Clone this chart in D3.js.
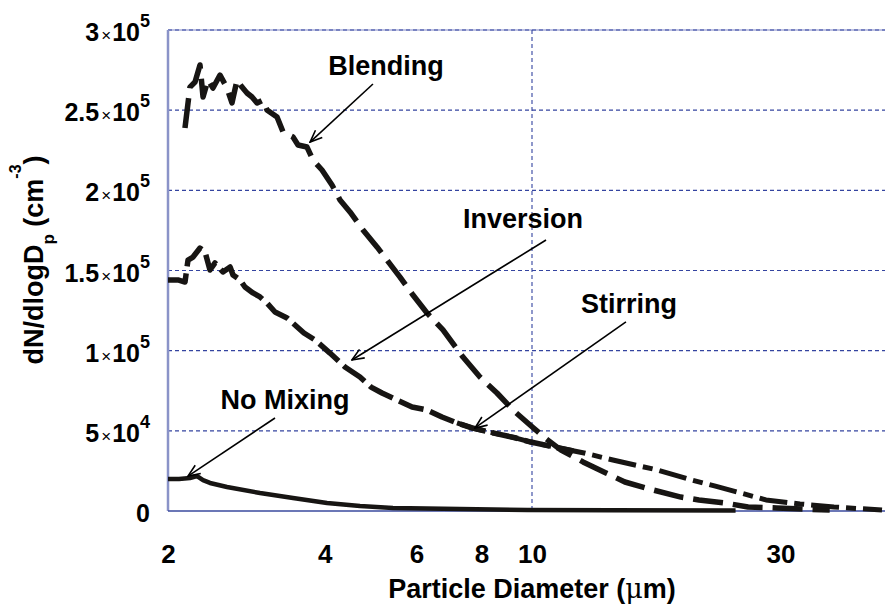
<!DOCTYPE html>
<html>
<head>
<meta charset="utf-8">
<script src="https://cdn.jsdelivr.net/npm/d3@7"></script>
<style>
body { margin: 0; background: #fff; }
text { font-family: "Liberation Sans", Arial, Helvetica, sans-serif; font-weight: bold; fill: #000; }
</style>
</head>
<body>
<script>
var width = 885, height = 605;

// [particle diameter (um), dN/dlogDp in thousands cm^-3]
var noMixing = [[2.0,20.0],[2.10,20.0],[2.204,20.6],[2.274,21.8],[2.335,19.3],[2.408,17.5],
  [2.596,15.0],[3.004,11.2],[3.476,8.1],[4.040,5.0],[4.674,3.1],[5.408,1.9],[7.27,1.2],
  [9.8,0.6],[14.1,0.4],[24.6,0.3]];

var blending = [[2.156,238.9],[2.204,264.4],[2.254,267.6],[2.304,278.2],[2.335,258.2],
  [2.387,268.8],[2.440,263.8],[2.517,271.9],[2.596,263.8],[2.654,254.5],[2.714,268.8],
  [2.774,264.4],[2.836,260.7],[2.900,258.2],[2.965,254.5],[3.044,256.3],[3.098,250.1],
  [3.239,245.7],[3.326,236.4],[3.476,233.3],[3.554,228.3],[3.698,227.0],[3.797,218.9],
  [3.951,212.7],[4.130,203.3],[4.279,194.0],[4.472,186.5],[4.737,175.3],[5.039,164.7],
  [5.267,156.5],[5.579,145.9],[5.908,134.7],[6.286,123.5],[6.746,112.9],[7.370,96.0],
  [7.944,83.6],[8.565,73.6],[9.193,63.0],[9.912,53.6],[10.6,45.5],[11.37,38.0],
  [12.53,30.6],[13.87,23.7],[15.08,18.1],[17.08,13.1],[19.32,8.7],[20.92,6.9],
  [23.47,5.0],[26.0,2.5],[29.5,1.9],[33.1,1.2],[37.3,0.6]];

var inversion = [[2.0,144.1],[2.09,144.1],[2.156,142.8],[2.185,156.5],[2.234,158.4],
  [2.304,164.0],[2.356,161.5],[2.408,150.3],[2.462,154.7],[2.550,149.1],[2.632,152.2],
  [2.666,147.2],[2.750,144.1],[2.811,139.7],[2.912,136.0],[3.004,133.5],[3.098,129.7],
  [3.210,124.1],[3.386,120.4],[3.648,111.0],[3.830,106.7],[4.093,98.5],[4.374,89.8],
  [4.674,83.6],[4.908,77.3],[5.152,73.6],[5.506,69.2],[5.884,64.9],[6.286,63.0],
  [6.716,58.6],[7.178,54.9],[7.669,51.8],[8.45,48.6],[9.32,45.5],[9.95,43.0],
  [11.02,39.9],[12.0,37.5]];

var stirring = [[7.178,54.9],[7.669,51.8],[8.45,48.6],[9.32,45.5],[9.95,43.0],[11.02,39.9],
  [12.59,36.2],[14.30,31.8],[17.45,25.5],[20.28,19.3],[22.5,15.5],[24.75,11.9],
  [28.14,6.9],[32.7,4.4],[38.0,2.5],[47.0,0.6]];

var xTicks = [2, 4, 6, 8, 10, 30];
var yTicks = [0, 5e4, 1e5, 1.5e5, 2e5, 2.5e5, 3e5];
var yTickMant = ['0', '5', '1', '1.5', '2', '2.5', '3'];
var yTickExp = [null, '4', '5', '5', '5', '5', '5'];

// label position, arrow start, arrow tip (diameter, thousands)
var notes = [
  {label: 'Blending', at: [5.245, 271.9], from: [4.95, 266.3], to: [3.748, 230.1]},
  {label: 'Inversion', at: [9.61, 176.5], from: [10.64, 169.0], to: [4.51, 94.2]},
  {label: 'Stirring', at: [15.35, 123.5], from: [15.15, 117.9], to: [7.77, 51.8]},
  {label: 'No Mixing', at: [3.356, 63.6], from: [3.21, 58.0], to: [2.185, 21.8]}
];

var svg = d3.select('body').append('svg')
  .attr('width', width)
  .attr('height', height);

var x = d3.scaleLog().domain([2, 50]).range([168, 896]);
var y = d3.scaleLinear().domain([0, 3e5]).range([511, 30]);

var defs = svg.append('defs');
defs.append('marker')
  .attr('id', 'arr')
  .attr('viewBox', '0 0 14 12')
  .attr('refX', 13).attr('refY', 6)
  .attr('markerWidth', 14).attr('markerHeight', 12)
  .attr('markerUnits', 'userSpaceOnUse')
  .attr('orient', 'auto')
  .append('path')
  .attr('d', 'M1,1 L13,6 L1,11')
  .attr('fill', 'none')
  .attr('stroke', '#000')
  .attr('stroke-width', 1.6);

// grid
svg.append('line')
  .attr('x1', x(2)).attr('x2', width)
  .attr('y1', y(3e5)).attr('y2', y(3e5))
  .attr('stroke', '#a8aed8').attr('stroke-width', 1.5);

svg.selectAll('.hgrid')
  .data(yTicks.slice(1))
  .enter().append('line')
  .attr('class', 'hgrid')
  .attr('x1', x(2)).attr('x2', width)
  .attr('y1', function(d) { return y(d); })
  .attr('y2', function(d) { return y(d); })
  .attr('stroke', '#3444a0')
  .attr('stroke-width', 1.1)
  .attr('stroke-dasharray', '4,3');

svg.append('line')
  .attr('x1', x(10)).attr('x2', x(10))
  .attr('y1', y(3e5)).attr('y2', y(0))
  .attr('stroke', '#3444a0')
  .attr('stroke-width', 1.1)
  .attr('stroke-dasharray', '4,3');

// axes lines
svg.append('line')
  .attr('x1', x(2)).attr('x2', x(2))
  .attr('y1', y(3e5)).attr('y2', y(0))
  .attr('stroke', '#8a93c8').attr('stroke-width', 2.5);

svg.append('line')
  .attr('x1', x(2)).attr('x2', width)
  .attr('y1', y(0)).attr('y2', y(0))
  .attr('stroke', '#3a4a9e').attr('stroke-width', 1.5);

// curves
var line = d3.line()
  .x(function(d) { return x(d[0]); })
  .y(function(d) { return y(d[1] * 1e3); });

var series = [
  {data: noMixing, w: 4.5, dash: null},
  {data: blending, w: 5.5, dash: '30,10'},
  {data: inversion, w: 5.5, dash: '26,7'},
  {data: stirring, w: 5, dash: '28,7,10,7'}
];

svg.selectAll('.curve')
  .data(series)
  .enter().append('path')
  .attr('class', 'curve')
  .attr('d', function(d) { return line(d.data); })
  .attr('fill', 'none')
  .attr('stroke', '#171513')
  .attr('stroke-width', function(d) { return d.w; })
  .attr('stroke-linejoin', 'round')
  .attr('stroke-dasharray', function(d) { return d.dash; });

// x tick labels
var xAxis = d3.axisBottom(x)
  .tickValues(xTicks)
  .tickFormat(d3.format('d'))
  .tickSize(0)
  .tickPadding(34);

svg.append('g')
  .attr('transform', 'translate(0,' + y(0) + ')')
  .call(xAxis)
  .attr('font-size', 26)
  .call(function(g) { g.select('.domain').remove(); });

// y tick labels with powers of ten
var yLab = svg.selectAll('.ylab')
  .data(yTicks)
  .enter().append('text')
  .attr('class', 'ylab')
  .attr('x', 150)
  .attr('y', function(d) { return y(d) + 11; })
  .attr('text-anchor', 'end');

yLab.append('tspan')
  .attr('font-size', 25)
  .text(function(d, i) { return yTickMant[i]; });

yLab.each(function(d, i) {
  if (!yTickExp[i]) return;
  var t = d3.select(this);
  t.append('tspan').attr('font-size', 17).attr('font-weight', 'normal').attr('dx', 2).text('\u00d7');
  t.append('tspan').attr('font-size', 25).attr('dx', 1).text('10');
  t.append('tspan').attr('font-size', 18).attr('dy', -14).text(yTickExp[i]);
});

// axis titles
var xt = svg.append('text')
  .attr('x', 532).attr('y', 598)
  .attr('text-anchor', 'middle')
  .attr('font-size', 27);
xt.append('tspan').text('Particle Diameter (');
xt.append('tspan').attr('font-weight', 'normal').attr('font-family', 'DejaVu Serif').text('\u03bc');
xt.append('tspan').text('m)');

var yt = svg.append('text')
  .attr('transform', 'translate(43,260) rotate(-90)')
  .attr('text-anchor', 'middle')
  .attr('font-size', 27);
yt.append('tspan').text('dN/dlogD');
yt.append('tspan').attr('font-size', 17).attr('dy', 11).text('p');
yt.append('tspan').attr('dy', -11).text('\u00a0(cm');
yt.append('tspan').attr('font-size', 16).attr('dy', -22).text('-3');
yt.append('tspan').attr('dy', 22).text(')');

// annotations
svg.selectAll('.arrow')
  .data(notes)
  .enter().append('line')
  .attr('class', 'arrow')
  .attr('x1', function(d) { return x(d.from[0]); })
  .attr('y1', function(d) { return y(d.from[1] * 1e3); })
  .attr('x2', function(d) { return x(d.to[0]); })
  .attr('y2', function(d) { return y(d.to[1] * 1e3); })
  .attr('stroke', '#000')
  .attr('stroke-width', 1.6)
  .attr('marker-end', 'url(#arr)');

svg.selectAll('.note')
  .data(notes)
  .enter().append('text')
  .attr('class', 'note')
  .attr('x', function(d) { return x(d.at[0]); })
  .attr('y', function(d) { return y(d.at[1] * 1e3); })
  .attr('text-anchor', 'middle')
  .attr('font-size', 27)
  .text(function(d) { return d.label; });
</script>
</body>
</html>
